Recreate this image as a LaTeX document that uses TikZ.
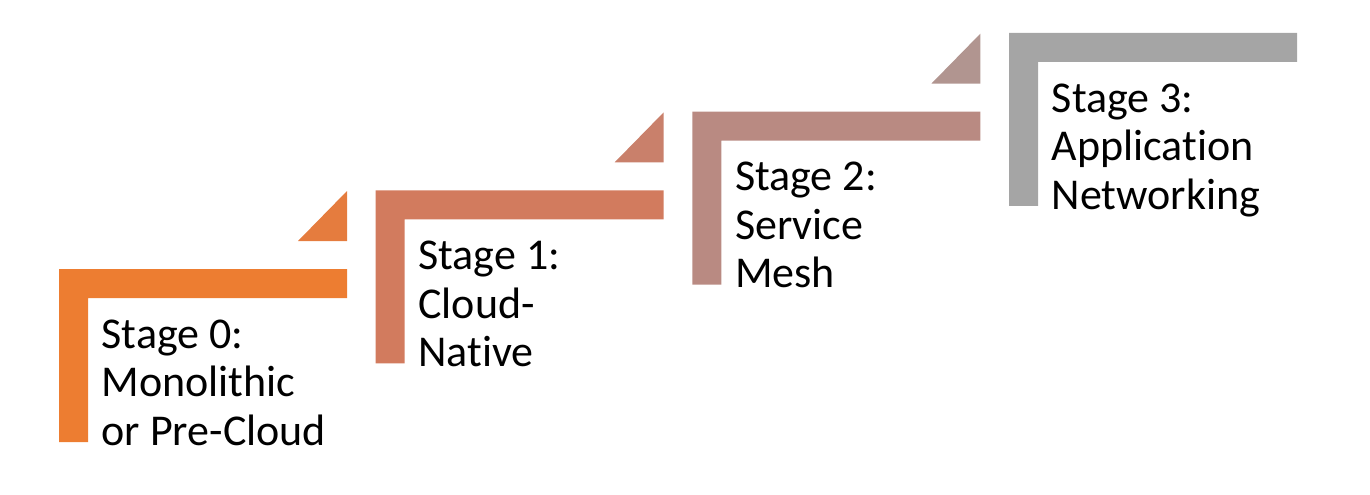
\documentclass[tikz,border=0pt]{standalone}
\usepackage{fontspec}
\setmainfont{Carlito}[Ligatures=NoCommon]
\usepackage{xcolor}

\definecolor{stepzero}{HTML}{ED7D31}
\definecolor{stepone}{HTML}{D27B5E}
\definecolor{steptwo}{HTML}{B98A82}
\definecolor{stepthree}{HTML}{A5A5A5}

\tikzset{
  stagelabel/.style={inner sep=0pt, align=left, anchor=north west,
    font=\fontsize{44}{48.5}\selectfont}
}

\begin{document}
\begin{tikzpicture}[x=1pt,y=-1pt]
  % page frame
  \useasboundingbox (0,0) rectangle (1370,495);

  % the four steps: an L-shaped bracket each, with a small wedge above its end
  \foreach \i/\col/\tri/\txt in {
      0/stepzero/stepzero!70!stepone/{Stage 0:\\Monolithic\\or Pre-Cloud},
      1/stepone/stepone!65!steptwo/{Stage 1:\\Cloud-\\Native},
      2/steptwo/steptwo!60!stepthree/{Stage 2:\\Service\\Mesh},
      3/stepthree/stepthree/{Stage 3:\\Application\\Networking}}{
    \pgfmathsetmacro\xo{59+316.7*\i}
    \pgfmathsetmacro\yo{269-78.7*\i}
    \fill[\col] (\xo,\yo) -- ++(288,0) -- ++(0,29) -- (\xo+29,\yo+29)
      -- (\xo+29,\yo+173) -- (\xo,\yo+173) -- cycle;
    \ifnum\i<3
      \fill[\tri] (\xo+288,\yo-28) -- ++(0,-50) -- ++(-49,50) -- cycle;
    \fi
    \node[stagelabel] (stage\i) at (\xo+42.5,\yo+50.5) {\txt};
  }
\end{tikzpicture}
\end{document}
